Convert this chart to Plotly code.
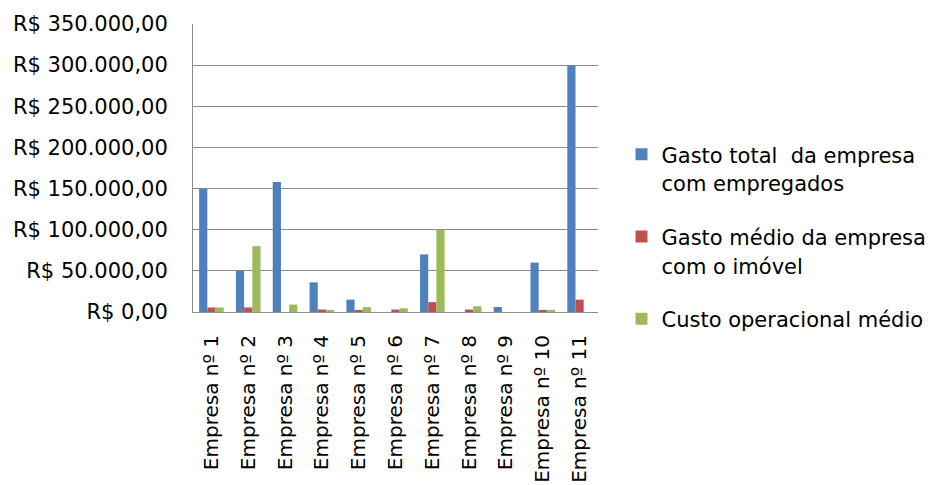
import plotly.graph_objects as go

categories = [f"Empresa nº {i}" for i in range(1, 12)]
series_names = [
    "Gasto total  da empresa<br>com empregados",
    "Gasto médio da empresa<br>com o imóvel",
    "Custo operacional médio",
]
gasto_total = [150000, 50000, 158000, 36000, 15000, 0, 70000, 0, 6000, 60000, 300000]
gasto_imovel = [5500, 5500, 0, 3000, 2500, 3000, 12000, 3000, 0, 2500, 15000]
custo_operacional = [5500, 80000, 9000, 2500, 6000, 4500, 100000, 7000, 0, 2500, 0]
colors = ["#4F81BD", "#C0504D", "#9BBB59"]

FONT = "DejaVu Sans"
fig = go.Figure()
for i, (name, vals) in enumerate(zip(series_names, [gasto_total, gasto_imovel, custo_operacional])):
    label = "<br>".join(f"<span style='font-size:21px'>{part}</span>" for part in name.split("<br>"))
    fig.add_trace(go.Bar(x=categories, y=vals, name=label, marker_color=colors[i],
                         marker_line_width=0, legendgroup=f"g{i}"))

fig.update_layout(
    width=937, height=485,
    margin=dict(l=193, r=339, t=24, b=173, autoexpand=False),
    plot_bgcolor="white", paper_bgcolor="white",
    separators=",.",
    barmode="group", bargap=0.333, bargroupgap=0,
    font=dict(family=FONT, size=21, color="#000000"),
    showlegend=True,
    legend=dict(x=1.058, xanchor="left", y=0.62, yanchor="top",
                valign="top", tracegroupgap=22,
                font=dict(family=FONT, size=22, color="#000000")),
)
fig.update_yaxes(range=[0, 350000], dtick=50000, tickprefix="R$ ", tickformat=",.2f",
                 showgrid=True, gridcolor="#8C8C8C", gridwidth=1,
                 showline=True, linecolor="#8C8C8C", linewidth=1,
                 zeroline=False, ticks="", ticklabelstandoff=20, automargin=False)
fig.update_xaxes(tickangle=-90, showline=True, linecolor="#8C8C8C", linewidth=1,
                 ticks="", showgrid=False, ticklabelstandoff=14, automargin=False,
                 tickfont=dict(family=FONT, size=20, color="#000000"))

fig.write_html("out.html")
